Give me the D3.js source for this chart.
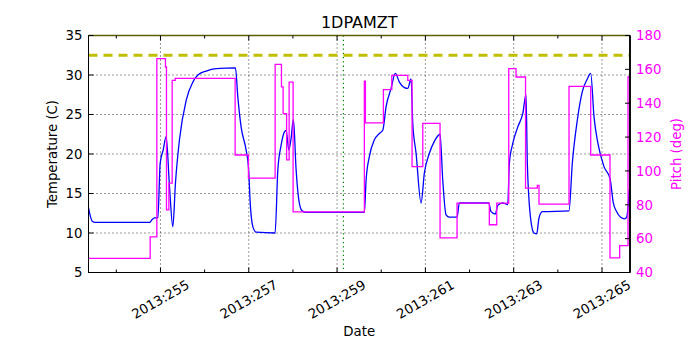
<!DOCTYPE html>
<html>
<head>
<meta charset="utf-8">
<script src="https://cdn.jsdelivr.net/npm/d3@7"></script>
<style>
  html, body { margin: 0; padding: 0; background: #fff; }
  svg { display: block; font-family: "DejaVu Sans", sans-serif; }
</style>
</head>
<body>
<svg id="chart" width="700" height="350"></svg>
<script>
// 1DPAMZT temperature (left axis) and spacecraft pitch (right axis) vs day of year 2013
const tempDays = [253.363, 253.454, 253.521, 254.751, 254.812, 254.864, 254.941, 254.993, 255.061, 255.129,
  255.204, 255.280, 255.339, 255.430, 255.582, 255.733, 255.847, 256.035, 256.261, 256.698,
  256.752, 256.827, 256.940, 256.992, 257.037, 257.092, 257.166, 257.596, 257.658, 257.732,
  257.807, 257.846, 257.907, 257.959, 258.011, 258.072, 258.133, 258.208, 258.299, 259.618,
  259.657, 259.732, 259.845, 259.958, 260.035, 260.110, 260.223, 260.320, 260.411, 260.524,
  260.601, 260.676, 260.714, 260.789, 260.902, 260.977, 261.090, 261.203, 261.332, 261.393,
  261.468, 261.543, 261.717, 261.769, 262.435, 262.487, 262.584, 262.639, 262.752, 262.865,
  262.901, 262.978, 263.091, 263.205, 263.279, 263.309, 263.386, 263.460, 263.521, 263.573,
  263.648, 264.253, 264.327, 264.441, 264.554, 264.667, 264.744, 264.819, 264.909, 265.045,
  265.181, 265.256, 265.332, 265.423, 265.513, 265.559, 265.618];
const tempValues = [13.4, 11.5, 11.35, 11.34, 11.7, 11.9, 11.95, 18.8, 20.5, 22.2,
  15.9, 10.8, 16.3, 21.8, 26.8, 29.1, 30.0, 30.5, 30.8, 30.9,
  27.2, 23.4, 20.5, 18.4, 13.4, 10.8, 10.1, 10.0, 18.0, 21.1,
  22.8, 23.0, 20.5, 22.0, 24.4, 18.0, 14.2, 12.8, 12.6, 12.6,
  16.7, 19.7, 21.8, 22.6, 23.0, 26.0, 28.3, 30.2, 29.1, 28.4,
  28.3, 29.5, 23.9, 20.1, 13.8, 17.6, 20.1, 21.6, 22.5, 16.7,
  12.3, 12.0, 12.0, 13.8, 13.8, 12.7, 12.4, 13.5, 13.8, 13.6,
  18.8, 21.3, 23.4, 25.1, 27.5, 18.8, 11.7, 10.0, 9.9, 11.9,
  12.7, 12.8, 18.8, 24.3, 27.9, 29.5, 30.2, 24.7, 21.3, 18.4,
  16.9, 13.8, 12.7, 12.0, 11.8, 12.0, 15.5];

// pitch is held constant from each day until the next one
const pitchDays = [253.363, 254.767, 254.918, 255.113, 255.136, 255.190, 255.265, 255.333, 256.691, 256.992,
  257.597, 257.740, 257.778, 257.857, 257.914, 258.004, 259.618, 259.641, 260.049, 260.239,
  260.601, 260.698, 260.941, 261.332, 261.717, 262.448, 262.616, 262.888, 263.053, 263.268,
  263.535, 263.573, 264.253, 264.744, 265.181, 265.400, 265.589, 265.634];
const pitchValues = [48.4, 61, 166.3, 161.4, 77, 92.8, 153.5, 154.7, 109.4, 95.7,
  162.9, 149.6, 133.9, 106.5, 152.5, 75.8, 153.1, 128.4, 148, 156.5,
  153.5, 102.5, 128.1, 60.4, 81, 68.2, 81, 160.4, 155.5, 89.8,
  91.5, 80.4, 150, 109.4, 48.6, 55.9, 155.5, 155.5];

const dayTicks = [255, 257, 259, 261, 263, 265];
const minorDayTicks = [254, 256, 258, 260, 262, 264];
const tempTicks = [5, 10, 15, 20, 25, 30, 35];
const pitchTicks = [40, 60, 80, 100, 120, 140, 160, 180];
const planningLimit = 32.5;
const nowDay = 259.143;

const plotLeft = 88.5, plotRight = 630, plotTop = 35.5, plotBottom = 272.5;
const svg = d3.select("#chart");

const x = d3.scaleLinear().domain([253.37, 265.634]).range([plotLeft, plotRight]);
const yT = d3.scaleLinear().domain([5, 35]).range([plotBottom, plotTop]);
const yP = d3.scaleLinear().domain([40, 180]).range([plotBottom, plotTop]);

svg.append("clipPath").attr("id", "plot-clip")
  .append("rect").attr("x", plotLeft).attr("y", plotTop)
  .attr("width", plotRight - plotLeft).attr("height", plotBottom - plotTop);

// dotted grid at labelled ticks
const grid = svg.append("g").attr("stroke", "#000").attr("stroke-width", 0.8).attr("stroke-dasharray", "1,3");
tempTicks.slice(1, -1).forEach(t => {
  grid.append("line").attr("x1", plotLeft).attr("x2", plotRight).attr("y1", yT(t)).attr("y2", yT(t));
});
dayTicks.forEach(d => {
  grid.append("line").attr("x1", x(d)).attr("x2", x(d)).attr("y1", plotTop).attr("y2", plotBottom);
});

const plot = svg.append("g").attr("clip-path", "url(#plot-clip)");

// current-time marker
plot.append("line")
  .attr("x1", x(nowDay)).attr("x2", x(nowDay)).attr("y1", plotTop).attr("y2", plotBottom)
  .attr("stroke", "#008000").attr("stroke-width", 1.2).attr("stroke-dasharray", "1.3,3");

// planning limit
plot.append("line")
  .attr("x1", plotLeft).attr("x2", plotRight).attr("y1", yT(planningLimit)).attr("y2", yT(planningLimit))
  .attr("stroke", "#bfbf00").attr("stroke-width", 3).attr("stroke-dasharray", "9,6");

// temperature
const tempLine = d3.line().x(d => x(d[0])).y(d => yT(d[1])).curve(d3.curveMonotoneX);
plot.append("path")
  .datum(d3.zip(tempDays, tempValues))
  .attr("d", tempLine)
  .attr("fill", "none").attr("stroke", "#0000ff").attr("stroke-width", 1.3);

// pitch
const pitchLine = d3.line().x(d => x(d[0])).y(d => yP(d[1])).curve(d3.curveStepAfter);
plot.append("path")
  .datum(d3.zip(pitchDays, pitchValues))
  .attr("d", pitchLine)
  .attr("fill", "none").attr("stroke", "#ff00ff").attr("stroke-width", 1.3);

// frame
svg.append("rect").attr("x", plotLeft).attr("y", plotTop)
  .attr("width", plotRight - plotLeft).attr("height", plotBottom - plotTop)
  .attr("fill", "none").attr("stroke", "#000").attr("stroke-width", 1);
svg.append("line").attr("x1", plotLeft).attr("x2", plotRight).attr("y1", plotTop).attr("y2", plotTop)
  .attr("stroke", "#5f5f00").attr("stroke-width", 1.6);
svg.append("line").attr("x1", plotRight).attr("x2", plotRight).attr("y1", plotTop).attr("y2", plotBottom)
  .attr("stroke", "#000").attr("stroke-width", 1.8);

// inward ticks
const ticks = svg.append("g").attr("stroke", "#000").attr("stroke-width", 1);
dayTicks.forEach(d => {
  ticks.append("line").attr("x1", x(d)).attr("x2", x(d)).attr("y1", plotBottom).attr("y2", plotBottom - 5);
  ticks.append("line").attr("x1", x(d)).attr("x2", x(d)).attr("y1", plotTop).attr("y2", plotTop + 5);
});
minorDayTicks.forEach(d => {
  ticks.append("line").attr("x1", x(d)).attr("x2", x(d)).attr("y1", plotBottom).attr("y2", plotBottom - 3);
  ticks.append("line").attr("x1", x(d)).attr("x2", x(d)).attr("y1", plotTop).attr("y2", plotTop + 3);
});
tempTicks.forEach(t => {
  ticks.append("line").attr("x1", plotLeft).attr("x2", plotLeft + 5).attr("y1", yT(t)).attr("y2", yT(t));
});
pitchTicks.forEach(p => {
  ticks.append("line").attr("x1", plotRight).attr("x2", plotRight - 5).attr("y1", yP(p)).attr("y2", yP(p));
});

const fs = 13.3;
// left tick labels
svg.append("g").selectAll("text").data(tempTicks).join("text")
  .attr("x", plotLeft - 6).attr("y", d => yT(d)).attr("dy", "0.36em")
  .attr("text-anchor", "end").attr("font-size", fs).attr("fill", "#000")
  .text(d => d);

// right tick labels
svg.append("g").selectAll("text").data(pitchTicks).join("text")
  .attr("x", plotRight + 6).attr("y", d => yP(d)).attr("dy", "0.36em")
  .attr("text-anchor", "start").attr("font-size", fs).attr("fill", "#ff00ff")
  .text(d => d);

// rotated date labels
svg.append("g").selectAll("text").data(dayTicks).join("text")
  .attr("transform", d => `translate(${x(d)},${plotBottom + 27}) rotate(-30)`)
  .attr("text-anchor", "middle").attr("dominant-baseline", "central")
  .attr("font-size", fs).attr("fill", "#000")
  .text(d => "2013:" + d);

// titles
svg.append("text").attr("x", (plotLeft + plotRight) / 2).attr("y", 28)
  .attr("text-anchor", "middle").attr("font-size", 16).attr("fill", "#000").text("1DPAMZT");
svg.append("text").attr("x", (plotLeft + plotRight) / 2).attr("y", 336)
  .attr("text-anchor", "middle").attr("font-size", fs).attr("fill", "#000").text("Date");
svg.append("text").attr("transform", `translate(57,${(plotTop + plotBottom) / 2}) rotate(-90)`)
  .attr("text-anchor", "middle").attr("font-size", fs).attr("fill", "#000").text("Temperature (C)");
svg.append("text").attr("transform", `translate(681,${(plotTop + plotBottom) / 2}) rotate(-90)`)
  .attr("text-anchor", "middle").attr("font-size", fs).attr("fill", "#ff00ff").text("Pitch (deg)");
</script>
</body>
</html>
